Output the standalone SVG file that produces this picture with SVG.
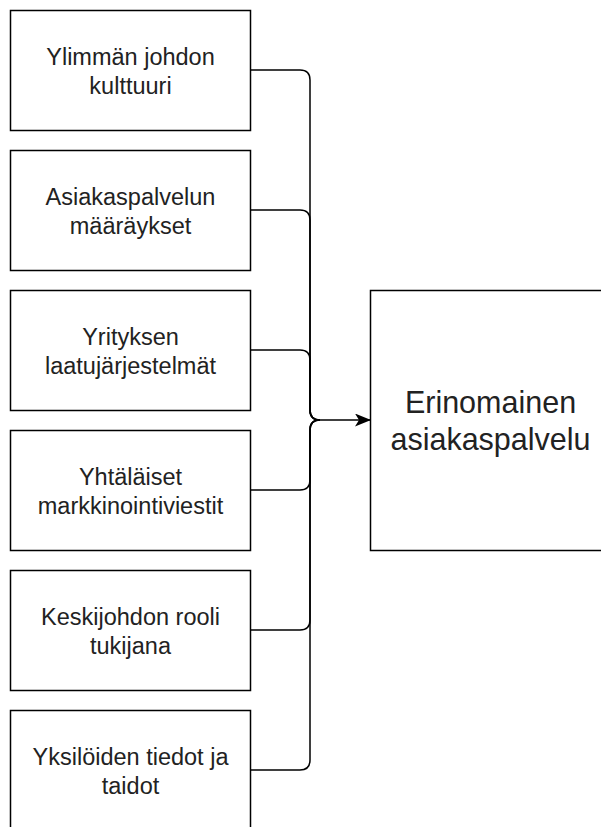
<svg xmlns="http://www.w3.org/2000/svg" width="601" height="827" viewBox="0 0 601 827">
<style>
.box{fill:#fff;stroke:#000;stroke-width:1.5}
.lbl{font-family:"Liberation Sans",Arial,sans-serif;font-size:23.5px;fill:#222;text-anchor:middle}
.big{font-family:"Liberation Sans",Arial,sans-serif;font-size:30.5px;fill:#222;text-anchor:middle}
.edge{fill:none;stroke:#000;stroke-width:1.5}
</style>
<defs>
<marker id="arr" markerWidth="16" markerHeight="13" refX="15" refY="6.5" orient="auto" markerUnits="userSpaceOnUse" viewBox="0 0 16 13">
<path d="M0,0 L16,6.5 L0,13 L4,6.5 Z" fill="#000"/>
</marker>
</defs>
<rect width="601" height="827" fill="#fff"/>
<g id="connectors">
<path class="edge" d="M250.5,70 L300,70 Q310,70 310,80 L310,410 Q310,420 320,420"/>
<path class="edge" d="M250.5,210 L300,210 Q310,210 310,220 L310,410 Q310,420 320,420"/>
<path class="edge" d="M250.5,350 L300,350 Q310,350 310,360 L310,410 Q310,420 320,420"/>
<path class="edge" d="M250.5,490 L300,490 Q310,490 310,480 L310,430 Q310,420 320,420"/>
<path class="edge" d="M250.5,630 L300,630 Q310,630 310,620 L310,430 Q310,420 320,420"/>
<path class="edge" d="M250.5,770 L300,770 Q310,770 310,760 L310,430 Q310,420 320,420"/>
<path class="edge" d="M320,420 L370,420" marker-end="url(#arr)"/>
</g>
<g id="n1"><rect class="box" x="10.5" y="10.5" width="240" height="120"/><text class="lbl" x="130.5" y="65">Ylimmän johdon</text><text class="lbl" x="130.5" y="93.5">kulttuuri</text></g>
<g id="n2"><rect class="box" x="10.5" y="150.5" width="240" height="120"/><text class="lbl" x="130.5" y="205">Asiakaspalvelun</text><text class="lbl" x="130.5" y="233.5">määräykset</text></g>
<g id="n3"><rect class="box" x="10.5" y="290.5" width="240" height="120"/><text class="lbl" x="130.5" y="345">Yrityksen</text><text class="lbl" x="130.5" y="373.5">laatujärjestelmät</text></g>
<g id="n4"><rect class="box" x="10.5" y="430.5" width="240" height="120"/><text class="lbl" x="130.5" y="485">Yhtäläiset</text><text class="lbl" x="130.5" y="513.5">markkinointiviestit</text></g>
<g id="n5"><rect class="box" x="10.5" y="570.5" width="240" height="120"/><text class="lbl" x="130.5" y="625">Keskijohdon rooli</text><text class="lbl" x="130.5" y="653.5">tukijana</text></g>
<g id="n6"><rect class="box" x="10.5" y="710.5" width="240" height="120"/><text class="lbl" x="130.5" y="765">Yksilöiden tiedot ja</text><text class="lbl" x="130.5" y="793.5">taidot</text></g>
<g id="target"><rect class="box" x="370.5" y="290.5" width="240" height="260"/><text class="big" x="490.5" y="413">Erinomainen</text><text class="big" x="490.5" y="450">asiakaspalvelu</text></g>
</svg>
